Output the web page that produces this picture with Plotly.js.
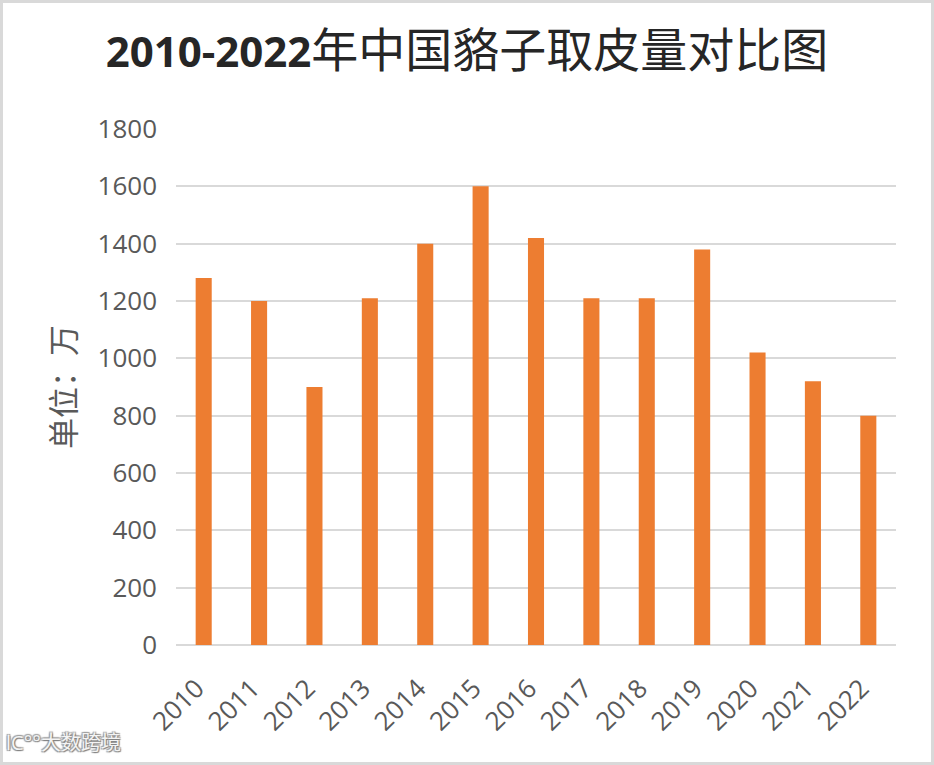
<!DOCTYPE html>
<html>
<head>
<meta charset="utf-8">
<script src="https://cdn.plot.ly/plotly-3.0.1.min.js"></script>
<style>
html,body{margin:0;padding:0;background:#fff;}
#wrap{position:relative;width:934px;height:765px;}
#chart{width:934px;height:765px;}
#frame{position:absolute;left:0;top:0;width:934px;height:765px;box-sizing:border-box;border:3px solid #d9d9d9;pointer-events:none;}
</style>
</head>
<body>
<div id="wrap"><div id="chart"></div><div id="frame"></div></div>
<script>
const years = ['2010','2011','2012','2013','2014','2015','2016','2017','2018','2019','2020','2021','2022'];
const pelts = [1280,1200,900,1210,1400,1600,1420,1210,1210,1380,1020,920,800];
const yTicks = [0,200,400,600,800,1000,1200,1400,1600,1800];

const tickFont = {family:'"Open Sans", "Noto Sans", sans-serif', size:26, color:'#595959'};
const wmShadow = '1px 1px 1px #7f7f7f, -1px -1px 1px #9f9f9f, 1px -1px 1px #9f9f9f, -1px 1px 1px #9f9f9f';

const data = [{
  type:'bar', x:years, y:pelts,
  marker:{color:'#ED7D31'},
  hoverinfo:'x+y'
}];

const layout = {
  width:934, height:765,
  margin:{l:176, r:38, t:129, b:120},
  paper_bgcolor:'#ffffff', plot_bgcolor:'#ffffff',
  bargap:0.71,
  showlegend:false,
  title:{
    text:'<b>2010-2022</b><span style="font-size:47px;font-family:\'Noto Sans CJK SC\'">年中国貉子取皮量对比图</span>',
    font:{family:'"Open Sans", "Noto Sans CJK SC", sans-serif', size:42, color:'#262626'},
    x:0.5, xanchor:'center', xref:'container',
    y:1, yref:'container', yanchor:'top', pad:{t:38}
  },
  xaxis:{
    type:'category',
    tickangle:-45,
    tickfont:tickFont,
    showgrid:false, showline:false, ticks:'', zeroline:false,
    ticklabelstandoff:22,
    ticklabelshift:-7
  },
  yaxis:{
    range:[0,1800],
    tickvals:yTicks,
    ticktext:yTicks.map(String),
    tickfont:tickFont,
    showgrid:true, gridcolor:'#d9d9d9', gridwidth:2,
    zeroline:true, zerolinecolor:'#d9d9d9', zerolinewidth:2,
    showline:false, ticks:'',
    ticklabelstandoff:18,
    title:{text:'单位：万', font:{family:'"Noto Sans CJK SC", sans-serif', size:31, color:'#595959'}, standoff:12}
  },
  annotations:[{
    text:'大数跨境', xref:'paper', yref:'paper', x:-0.19, y:-0.219, xanchor:'left', yanchor:'bottom',
    showarrow:false,
    font:{family:'"Noto Sans CJK SC", sans-serif', size:20, color:'#f4f4f4', shadow:wmShadow}
  },{
    text:'lC°°', xref:'paper', yref:'paper', x:-0.239, y:-0.219, xanchor:'left', yanchor:'bottom',
    showarrow:false,
    font:{family:'"Open Sans", sans-serif', size:20, color:'#f4f4f4', shadow:wmShadow}
  }]
};

Plotly.newPlot('chart', data, layout, {displayModeBar:false});
</script>
</body>
</html>
